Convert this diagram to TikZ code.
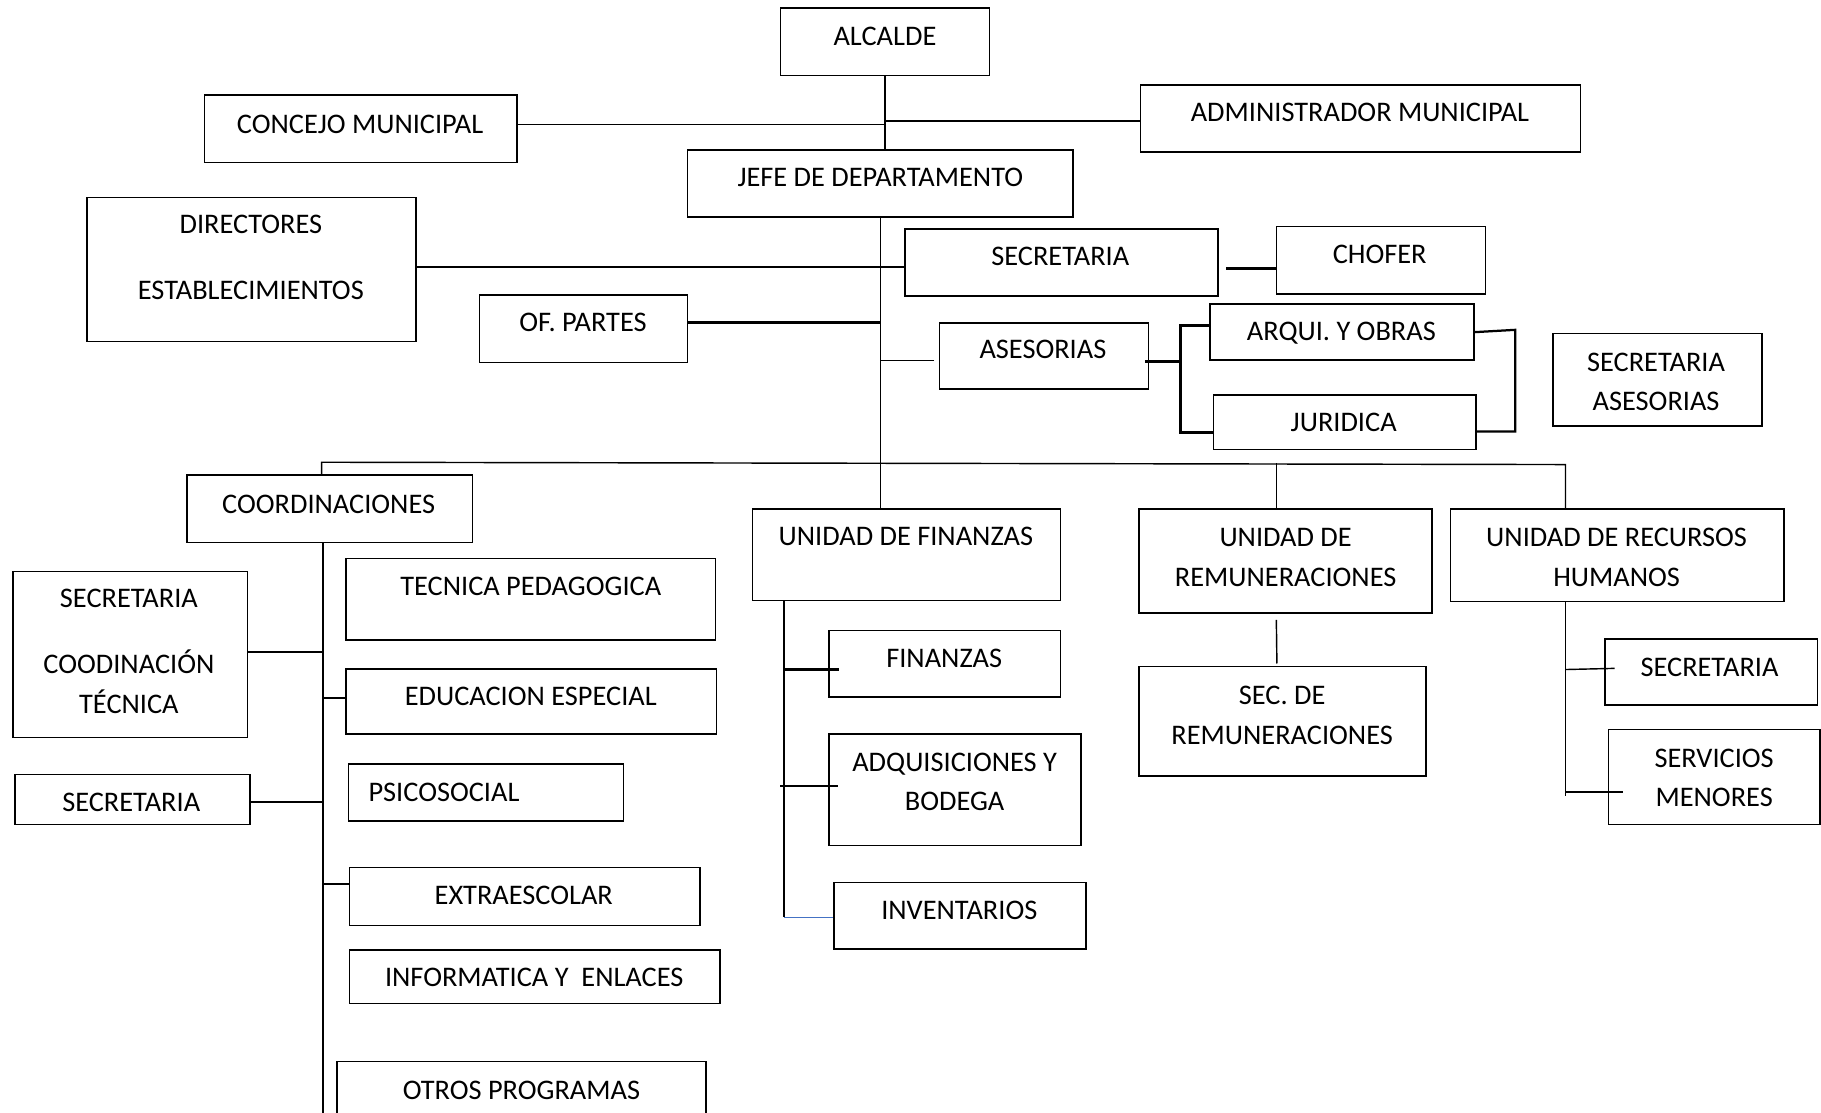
\documentclass[tikz,border=0pt]{standalone}
\usepackage{fontspec}
\setmainfont{Carlito}
\usetikzlibrary{fit,calc}
\definecolor{linkblue}{HTML}{4472C4}
\tikzset{
	box/.style={draw,line width=0.8pt,inner sep=0pt},
	lbl/.style={align=center,inner sep=0pt},
	link/.style={line width=0.7pt},
	boldlink/.style={line width=1.5pt}
}
\begin{document}
\begin{tikzpicture}[x=0.02cm,y=-0.02cm,font=\fontsize{13.9}{19.3}\selectfont]
				\useasboundingbox (0,0) rectangle (1568,958);
				% cajas
				\node[box,fit={(672,7) (852,65)}] (alcalde) {};
				\node[box,fit={(176,82) (445,140)}] (concejo) {};
				\node[box,fit={(982,73) (1361,131)}] (admin) {};
				\node[box,fit={(592,129) (924,187)}] (jefe) {};
				\node[box,fit={(75,170) (358,294)}] (directores) {};
				\node[box,fit={(779,197) (1049,255)}] (secretaria) {};
				\node[box,fit={(1099,195) (1279,253)}] (chofer) {};
				\node[box,fit={(413,254) (592,312)}] (partes) {};
				\node[box,fit={(809,278) (989,335)}] (asesorias) {};
				\node[box,fit={(1042,262) (1269,310)}] (arqui) {};
				\node[box,fit={(1045,340) (1271,387)}] (juridica) {};
				\node[box,fit={(1337,287) (1517,367)}] (secases) {};
				\node[box,fit={(161,409) (407,467)}] (coordin) {};
				\node[box,fit={(648,438) (913,517)}] (ufinanzas) {};
				\node[box,fit={(981,438) (1233,528)}] (uremun) {};
				\node[box,fit={(1249,438) (1536,518)}] (urrhh) {};
				\node[box,fit={(11,492) (213,635)}] (seccoord) {};
				\node[box,fit={(298,481) (616,551)}] (tecped) {};
				\node[box,fit={(298,576) (617,632)}] (eduesp) {};
				\node[box,fit={(13,667) (215,710)}] (secretaria2) {};
				\node[box,fit={(300,658) (537,707)}] (psico) {};
				\node[box,fit={(301,747) (603,797)}] (extra) {};
				\node[box,fit={(301,818) (620,864)}] (informa) {};
				\node[box,fit={(290,914) (608,964)}] (otros) {};
				\node[box,fit={(714,543) (913,600)}] (finanzas) {};
				\node[box,fit={(714,632) (931,728)}] (adquis) {};
				\node[box,fit={(718,760) (935,817)}] (invent) {};
				\node[box,fit={(981,574) (1228,668)}] (secremun) {};
				\node[box,fit={(1382,550) (1565,607)}] (secrrhh) {};
				\node[box,fit={(1385,628) (1567,710)}] (servicios) {};
				% textos
				\node[lbl] at (762,31) {ALCALDE};
				\node[lbl] at (310,107) {CONCEJO MUNICIPAL};
				\node[lbl] at (1171,97) {ADMINISTRADOR MUNICIPAL};
				\node[lbl] at (758,153) {JEFE DE DEPARTAMENTO};
				\node[lbl] at (216,222) {DIRECTORES\\[0.46cm]ESTABLECIMIENTOS};
				\node[lbl] at (913,221) {SECRETARIA};
				\node[lbl] at (1188,219) {CHOFER};
				\node[lbl] at (502,278) {OF. PARTES};
				\node[lbl] at (898,301) {ASESORIAS};
				\node[lbl] at (1155,287) {ARQUI. Y OBRAS};
				\node[lbl] at (1157,364) {JURIDICA};
				\node[lbl] at (1426,329) {SECRETARIA\\ASESORIAS};
				\node[lbl] at (283,434) {COORDINACIONES};
				\node[lbl] at (780,462) {UNIDAD DE FINANZAS};
				\node[lbl] at (1107,480) {UNIDAD DE\\REMUNERACIONES};
				\node[lbl] at (1392,480) {UNIDAD DE RECURSOS\\HUMANOS};
				\node[lbl] at (111,561) {SECRETARIA\\[0.46cm]COODINACIÓN\\TÉCNICA};
				\node[lbl] at (457,505) {TECNICA PEDAGOGICA};
				\node[lbl] at (457,600) {EDUCACION ESPECIAL};
				\node[lbl] at (113,691) {SECRETARIA};
				\node[lbl,anchor=west] at (317,682) {PSICOSOCIAL};
				\node[lbl] at (451,771) {EXTRAESCOLAR};
				\node[lbl] at (460,842) {INFORMATICA Y~ ENLACES};
				\node[lbl] at (449,939) {OTROS PROGRAMAS};
				\node[lbl] at (813,567) {FINANZAS};
				\node[lbl] at (822,673) {ADQUISICIONES Y\\BODEGA};
				\node[lbl] at (826,784) {INVENTARIOS};
				\node[lbl] at (1104,616) {SEC. DE\\REMUNERACIONES};
				\node[lbl] at (1472,575) {SECRETARIA};
				\node[lbl] at (1476,670) {SERVICIOS\\MENORES};
				% lineas
				\coordinate (busl) at (277,398);
				\coordinate (busr) at (1348,400);
				\coordinate (cbot) at (278,958);
				\coordinate (fx) at (675,790);
				\coordinate (hx) at (1348,685);
				\draw[link] (alcalde.south) -- (alcalde.south |- jefe.north);
				\draw[link] ($(concejo.east)+(0,-4)$) -- ($(concejo.east -| alcalde.south)+(0,-4)$);
				\draw[link] ($(admin.west)+(0,2)$) -- ($(admin.west -| alcalde.south)+(0,2)$);
				\draw[link] (jefe.south) -- (jefe.south |- ufinanzas.north);
				\draw[link] ($(directores.east)+(0,-2)$) -- ($(directores.east -| secretaria.west)+(0,-2)$);
				\draw[boldlink] ($(secretaria.east)+(6,5)$) -- ($(chofer.west)+(0,7)$);
				\draw[boldlink] ($(partes.east)+(0,-5)$) -- ($(partes.east -| jefe.south)+(0,-5)$);
				\draw[link] ($(asesorias.west)+(-4,4)$) -- ($(asesorias.west -| jefe.south)+(0,4)$);
				\draw[boldlink] ($(asesorias.east)+(-4,5)$) -- ++(31,0);
				\draw[boldlink] ($(arqui.west)+(0,-6)$) -| ($(asesorias.east)+(27,0)$) |- ($(juridica.west)+(0,9)$);
				\draw[link,line width=1.1pt] (arqui.east) -- ++(35,-2) |- ($(juridica.east)+(0,8)$);
				\draw[link] (busl |- coordin.north) -- (busl) -- (busr) -- (busr |- urrhh.north);
				\draw[link] (uremun.north) ++(-8,0) -- ++(0,-39);
				\draw[link] (cbot |- coordin.south) -- (cbot);
				\draw[link] ($(seccoord.east)+(0,-2)$) -- ($(seccoord.east -| cbot)+(0,-2)$);
				\draw[link] ($(eduesp.west)+(0,-3)$) -- ($(eduesp.west -| cbot)+(0,-3)$);
				\draw[link] ($(secretaria2.east)+(0,2)$) -- ($(secretaria2.east -| cbot)+(0,2)$);
				\draw[link] ([yshift=0.22cm]extra.west) -- ([yshift=0.22cm]extra.west -| cbot);
				\draw[link] (fx |- ufinanzas.south) -- (fx);
				\draw[boldlink,line width=1.1pt] ($(finanzas.west -| fx)+(0,5)$) -- ($(finanzas.west)+(9,5)$);
				\draw[boldlink,line width=1.1pt] ($(adquis.west -| fx)+(-3,-3)$) -- ($(adquis.west)+(8,-3)$);
				\draw[linkblue,line width=0.9pt] (fx) -- (fx -| invent.west);
				\draw[link] ($(uremun.south)+(-8,5)$) -- ($(secremun.north)+(-5,-2)$);
				\draw[link] (hx |- urrhh.south) -- (hx);
				\draw[link] ($(hx |- secrrhh.west)+(0,-2)$) -- ($(secrrhh.west)+(9,-3)$);
				\draw[boldlink,line width=1.1pt] ($(hx |- servicios.west)+(0,13)$) -- ($(servicios.west)+(13,13)$);

		\end{tikzpicture}
\end{document}
